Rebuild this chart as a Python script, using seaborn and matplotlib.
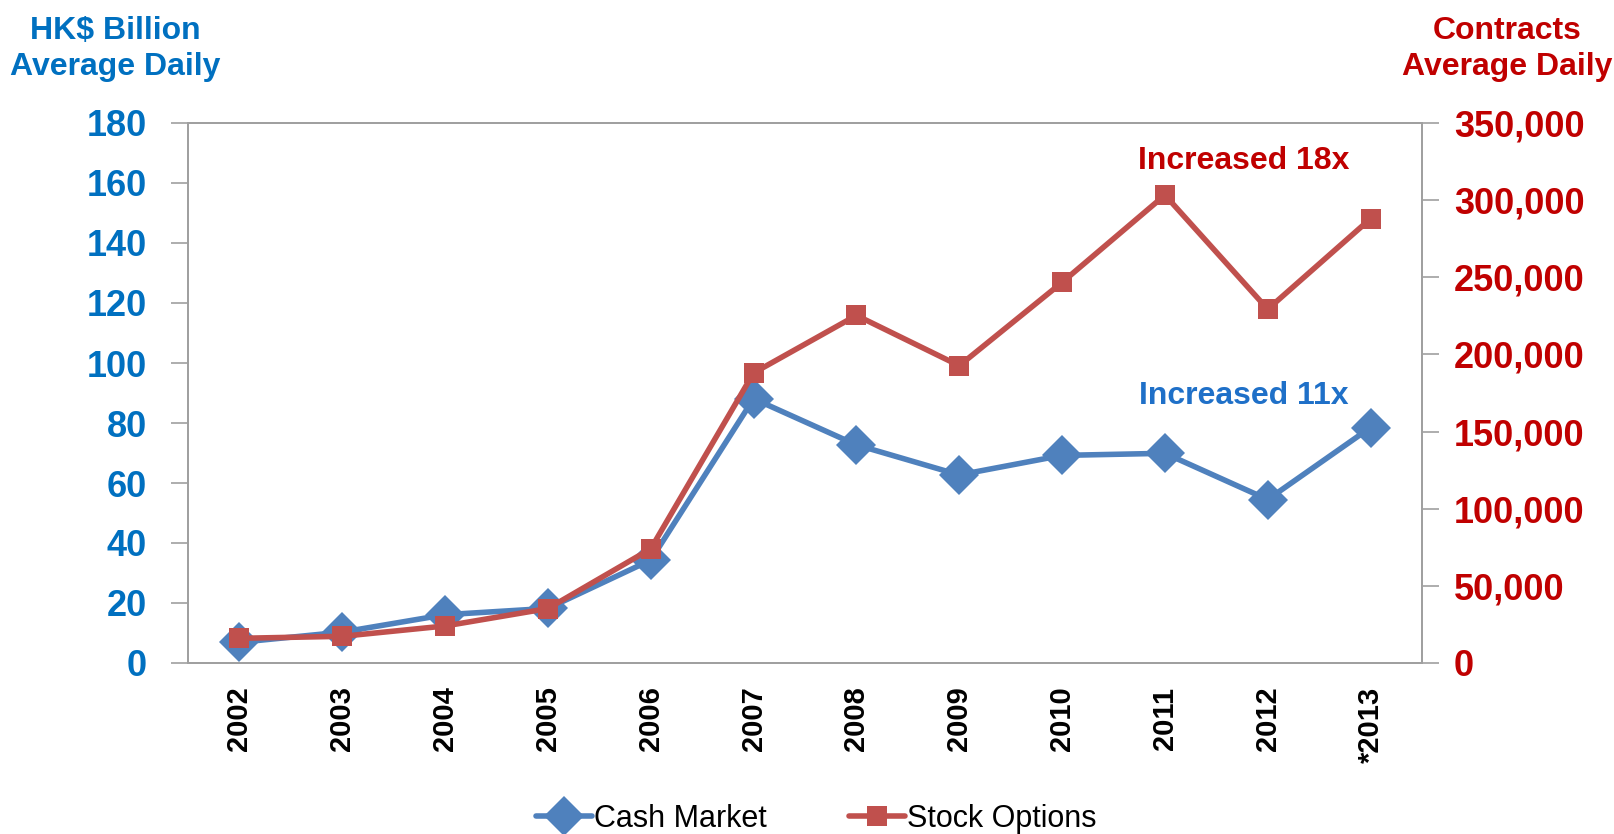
import numpy as np
import pandas as pd
import matplotlib
matplotlib.use("Agg")
import matplotlib.pyplot as plt
from matplotlib.lines import Line2D
from matplotlib.ticker import FuncFormatter, FixedLocator
import seaborn as sns

years = ["2002", "2003", "2004", "2005", "2006", "2007", "2008", "2009", "2010", "2011", "2012", "*2013"]
cash_market = [6.9, 10.3, 16.1, 18.2, 34.3, 88.1, 72.7, 62.7, 69.2, 69.9, 54.5, 78.5]
stock_options = [16000, 17300, 24000, 35300, 74000, 188000, 225300, 192700, 246700, 303300, 229300, 288000]

BLUE_TXT = "#0070C0"
RED_TXT = "#C00000"
BLUE = "#4F81BD"
RED = "#C0504D"
GREY = "#A0A0A0"

sns.set_style("white")
plt.rcParams["font.family"] = ["Liberation Sans", "DejaVu Sans"]

df = pd.DataFrame({"pos": np.arange(len(years)), "cash": cash_market, "opt": stock_options})

fig = plt.figure(figsize=(16.15, 8.34), dpi=100)
ax = fig.add_axes([188 / 1615, 1 - 663 / 834, (1422 - 188) / 1615, (663 - 123) / 834])
ax2 = ax.twinx()

sns.lineplot(data=df, x="pos", y="cash", ax=ax, color=BLUE, lw=4, marker="D",
             markersize=20, markeredgewidth=0, zorder=3, legend=False)
sns.lineplot(data=df, x="pos", y="opt", ax=ax2, color=RED, lw=4, marker="s",
             markersize=14.5, markeredgewidth=0, zorder=3, legend=False)

ax.set_xlim(-0.5, len(years) - 0.5)
ax.set_ylim(0, 180)
ax2.set_ylim(0, 350000)
ax.set_yticks(np.arange(0, 181, 20))
ax2.set_yticks(np.arange(0, 350001, 50000))
ax2.yaxis.set_major_formatter(FuncFormatter(lambda v, p: f"{int(v):,}"))

ax.set_xticks(df["pos"])
ax.set_xticklabels(years, rotation=90, fontsize=21, fontweight="bold", color="black")
ax.xaxis.set_minor_locator(FixedLocator(np.arange(-0.5, len(years), 1)))
ax.tick_params(axis="x", which="major", length=0, pad=17)
ax.tick_params(axis="x", which="minor", length=10, width=1.2, color=GREY, direction="out")
ax.tick_params(axis="y", length=12, width=1.2, color=GREY, direction="out", pad=17.5,
               labelsize=26, labelcolor=BLUE_TXT)
ax2.tick_params(axis="y", length=12, width=1.2, color=GREY, direction="out", pad=11,
                labelsize=26, labelcolor=RED_TXT)
for lab in ax.get_yticklabels() + ax2.get_yticklabels():
    lab.set_fontweight("bold")

for a in (ax, ax2):
    a.set_xlabel("")
    a.set_ylabel("")
    for s in a.spines.values():
        s.set_color(GREY)
        s.set_linewidth(1.4)
ax.grid(False)
ax2.grid(False)

fig.text(115 / 1615, 1 - 49 / 834, "HK$ Billion\nAverage Daily", ha="center", va="center",
         fontsize=23, fontweight="bold", color=BLUE_TXT, linespacing=1.25)
fig.text(1507 / 1615, 1 - 49 / 834, "Contracts\nAverage Daily", ha="center", va="center",
         fontsize=23, fontweight="bold", color=RED_TXT, linespacing=1.25)

ax.text(9.77, 167.3, "Increased 18x", ha="center", va="center", fontsize=23,
        fontweight="bold", color=RED_TXT)
ax.text(9.77, 89.1, "Increased 11x", ha="center", va="center", fontsize=23,
        fontweight="bold", color="#1F70C8")

handles = [Line2D([0], [0], color=BLUE, lw=4, marker="D", markersize=20, markeredgewidth=0),
           Line2D([0], [0], color=RED, lw=4, marker="s", markersize=14.5, markeredgewidth=0)]
fig.legend(handles, ["Cash Market", "Stock Options"], loc="center", ncol=2,
           bbox_to_anchor=(816 / 1615, 1 - 819 / 834), frameon=False, fontsize=22,
           handlelength=1.85, handletextpad=0.05, columnspacing=2.7, borderpad=0,
           labelcolor="black")

fig.savefig("out.png", dpi=100)
